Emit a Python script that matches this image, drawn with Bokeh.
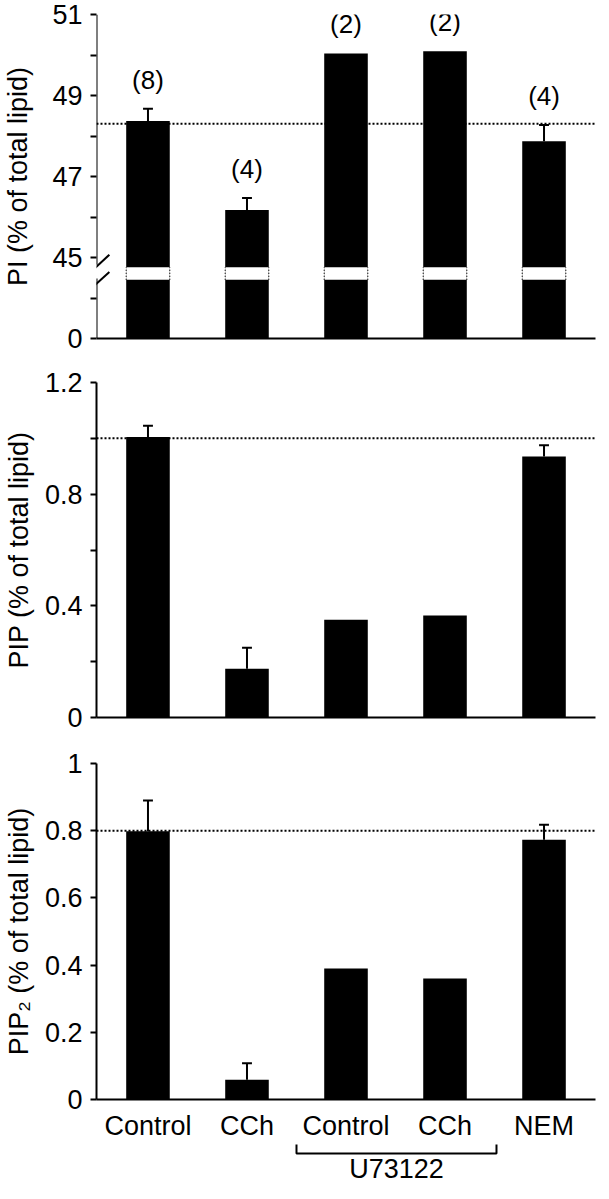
from bokeh.plotting import figure
from bokeh.models import Range1d, FixedTicker, Span, Arrow, NumeralTickFormatter, ColumnDataSource
from bokeh.layouts import column
from bokeh.embed import file_html
from bokeh.resources import INLINE
from bokeh.core.properties import value

# ---------------- data ----------------
CATEGORIES = ["Control", "CCh", "Control", "CCh", "NEM"]
X = [1, 2, 3, 4, 5]
N_LABELS = ["(8)", "(4)", "(2)", "(2)", "(4)"]
GROUP_LABEL = "U73122"
GROUP_MEMBERS = [3, 4]

PI = [48.37, 46.17, 50.04, 50.09, 47.87]
PI_ERR = [0.30, 0.30, 0.0, 0.0, 0.40]
PI_REF = 48.30
PI_TICKS = [0, 45, 47, 49, 51]
PI_TICK_LABELS = ["0", "45", "47", "49", "51"]

PIP = [1.005, 0.175, 0.350, 0.365, 0.935]
PIP_ERR = [0.040, 0.075, 0.0, 0.0, 0.040]
PIP_REF = 1.0
PIP_TICKS = [0, 0.4, 0.8, 1.2]
PIP_MINOR = [0.2, 0.6, 1.0]

PIP2 = [0.798, 0.059, 0.390, 0.360, 0.773]
PIP2_ERR = [0.092, 0.049, 0.0, 0.0, 0.045]
PIP2_REF = 0.8
PIP2_TICKS = [0, 0.2, 0.4, 0.6, 0.8, 1.0]

FONT = "Liberation Sans"
FS = "27px"
W = 598
LEFT = 91
RIGHT = 3
BAR_W = 0.44
CAP = 0.05


# broken PI axis: lower part 0..45 compressed to 0..2, upper part 45..51 -> 2..8
def pi_pos(v):
    if v >= 45:
        return 2 + (v - 45)
    return v / 22.5


x_range = Range1d(0.48, 5.52)


def make_fig(height, top, bottom, y_range):
    p = figure(width=W, height=height, x_range=x_range, y_range=y_range,
               min_border_left=LEFT, min_border_right=RIGHT,
               min_border_top=top, min_border_bottom=bottom,
               toolbar_location=None, output_backend="svg")
    p.outline_line_color = None
    p.xgrid.visible = False
    p.ygrid.visible = False
    p.background_fill_color = "white"
    p.border_fill_color = "white"
    for ax in p.axis:
        ax.axis_line_width = 2
        ax.axis_line_color = "black"
        ax.major_tick_line_width = 2
        ax.minor_tick_line_width = 2
        ax.major_tick_line_color = "black"
        ax.minor_tick_line_color = "black"
        ax.major_label_text_font = FONT
        ax.major_label_text_font_size = FS
        ax.major_label_text_color = "black"
        ax.axis_label_text_font = FONT
        ax.axis_label_text_font_size = FS
        ax.axis_label_text_font_style = "normal"
        ax.axis_label_text_color = "black"
    ya = p.yaxis[0]
    ya.major_tick_in = 0
    ya.major_tick_out = 6
    ya.minor_tick_in = 0
    ya.minor_tick_out = 6
    ya.major_label_standoff = 8
    xa = p.xaxis[0]
    xa.major_tick_in = 0
    xa.major_tick_out = 0
    xa.minor_tick_in = 0
    xa.minor_tick_out = 0
    xa.ticker = FixedTicker(ticks=[])
    xa.major_label_text_font_size = "0px"
    xa.major_label_standoff = 0
    return p


def add_errors(p, xs, tops, errs, conv=lambda v: v):
    sel = [i for i in range(len(xs)) if errs[i] > 0]
    src = ColumnDataSource(dict(
        x=[xs[i] for i in sel],
        y0=[conv(tops[i]) for i in sel],
        y1=[conv(tops[i] + errs[i]) for i in sel],
        xl=[xs[i] - CAP for i in sel],
        xr=[xs[i] + CAP for i in sel],
    ))
    p.segment(x0="x", y0="y0", x1="x", y1="y1", source=src, line_color="black", line_width=2)
    p.segment(x0="xl", y0="y1", x1="xr", y1="y1", source=src, line_color="black", line_width=2)


def ref_line(p, loc):
    p.add_layout(Span(location=loc, dimension="width", line_color="black",
                      line_width=2, line_dash="2 2"))


# ---------------- panel 1: PI ----------------
p1 = make_fig(360, 14, 22, Range1d(0, 8))
pi_major = [pi_pos(t) for t in PI_TICKS]
pi_minor = [(a + b) / 2 for a, b in zip(pi_major[:-1], pi_major[1:])]
p1.yaxis[0].ticker = FixedTicker(ticks=pi_major, minor_ticks=pi_minor)
p1.yaxis[0].major_label_overrides = {int(round(pos)): lab for pos, lab in zip(pi_major, PI_TICK_LABELS)}
p1.yaxis[0].axis_label = "PI (% of total lipid)"
p1.yaxis[0].axis_label_standoff = 16
p1.yaxis[0].axis_line_color = None

p1.vbar(x=X, top=[pi_pos(v) for v in PI], bottom=0, width=BAR_W,
        fill_color="black", line_color="black", line_width=0)
# break gap in the bars
GAP_LO, GAP_HI = 1.45, 1.76
p1.quad(left=[x - BAR_W / 2 for x in X], right=[x + BAR_W / 2 for x in X],
        bottom=GAP_LO, top=GAP_HI, fill_color="white", line_color=None)
for side in (-1, 1):
    p1.segment(x0=[x + side * BAR_W / 2 for x in X], x1=[x + side * BAR_W / 2 for x in X],
               y0=GAP_LO, y1=GAP_HI, line_color="black", line_width=1.2, line_dash="1 2")
add_errors(p1, X, PI, PI_ERR, pi_pos)
ref_line(p1, pi_pos(PI_REF))
p1.text(x=X, y=[pi_pos(v + e) for v, e in zip(PI, PI_ERR)], text=N_LABELS,
        text_align="center", text_baseline="bottom", y_offset=-14,
        text_font=value(FONT), text_font_size="26px", text_color="black")
# broken y axis line and slashes
AX_GAP_LO, AX_GAP_HI = 1.48, 1.82
x0 = x_range.start
for ys, ye in ((0, AX_GAP_LO), (AX_GAP_HI, 8)):
    p1.add_layout(Arrow(start=None, end=None, x_start=x0, y_start=ys, x_end=x0, y_end=ye,
                        line_color="black", line_width=2))
for ys, ye in ((1.60, 2.07), (1.19, 1.64)):
    p1.add_layout(Arrow(start=None, end=None, x_start=x0 - 0.075, y_start=ys,
                        x_end=x0 + 0.13, y_end=ye, line_color="black", line_width=2))

# ---------------- panel 2: PIP ----------------
p2 = make_fig(379, 22, 22, Range1d(0, 1.2))
p2.yaxis[0].ticker = FixedTicker(ticks=PIP_TICKS, minor_ticks=PIP_MINOR)
p2.yaxis[0].formatter = NumeralTickFormatter(format="0.[0]")
p2.yaxis[0].axis_label = "PIP (% of total lipid)"
p2.yaxis[0].axis_label_standoff = 8
p2.vbar(x=X, top=PIP, bottom=0, width=BAR_W, fill_color="black", line_color="black", line_width=0)
add_errors(p2, X, PIP, PIP_ERR)
ref_line(p2, PIP_REF)

# ---------------- panel 3: PIP2 ----------------
p3 = make_fig(404, 24, 44, Range1d(0, 1.0))
p3.yaxis[0].ticker = FixedTicker(ticks=PIP2_TICKS)
p3.yaxis[0].formatter = NumeralTickFormatter(format="0.[0]")
p3.yaxis[0].axis_label = "PIP\u2082 (% of total lipid)"
p3.yaxis[0].axis_label_standoff = 8
xa3 = p3.xaxis[0]
xa3.ticker = FixedTicker(ticks=X)
xa3.major_label_overrides = {x: c for x, c in zip(X, CATEGORIES)}
xa3.major_label_text_font_size = FS
xa3.major_label_standoff = 11
p3.vbar(x=X, top=PIP2, bottom=0, width=BAR_W, fill_color="black", line_color="black", line_width=0)
add_errors(p3, X, PIP2, PIP2_ERR)
ref_line(p3, PIP2_REF)

# ---------------- group bracket ----------------
p4 = figure(width=W, height=40, x_range=x_range, y_range=Range1d(0, 40),
            min_border_left=LEFT, min_border_right=RIGHT, min_border_top=0, min_border_bottom=0,
            x_axis_type=None, y_axis_type=None, toolbar_location=None, output_backend="svg")
p4.outline_line_color = None
p4.xgrid.visible = False
p4.ygrid.visible = False
g0 = min(GROUP_MEMBERS) - 0.5
g1 = max(GROUP_MEMBERS) + 0.52
p4.line(x=[g0, g0, g1, g1], y=[39, 30, 30, 39], line_color="black", line_width=2)
p4.text(x=[(g0 + g1) / 2], y=[0], text=[GROUP_LABEL], text_align="center",
        text_baseline="bottom", text_font=value(FONT), text_font_size=FS, text_color="black")

layout = column(p1, p2, p3, p4, spacing=0)
open("out.html", "w").write(file_html(layout, INLINE))
